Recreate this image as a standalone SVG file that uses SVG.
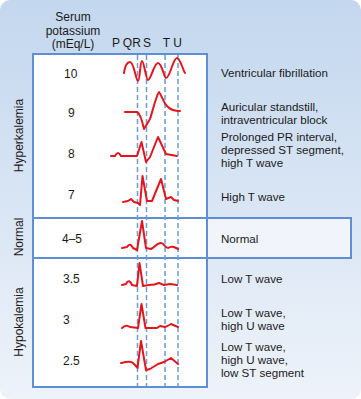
<svg xmlns="http://www.w3.org/2000/svg" width="361" height="399" viewBox="0 0 361 399">
<defs>
<linearGradient id="bg" x1="0" y1="0" x2="0" y2="1">
<stop offset="0" stop-color="#c3d7ee"/>
<stop offset="1" stop-color="#eef3fa"/>
</linearGradient>
<style>
text{font-family:"Liberation Sans",Arial,sans-serif;font-size:12px;fill:#1a1a1a}
.num{text-anchor:start}
.mid{text-anchor:middle}
.lbl{text-anchor:start;font-size:11.6px}
.frame{fill:none;stroke:#5d8fd4;stroke-width:2}
.dash{stroke:#6b9bd8;stroke-width:1.5;stroke-dasharray:5 3;fill:none}
.ecg{fill:none;stroke:#e3151d;stroke-width:2;stroke-linejoin:round;stroke-linecap:round}
</style>
</defs>
<rect x="0" y="0" width="361" height="399" fill="#ffffff"/>
<rect x="0" y="0" width="361" height="399" rx="10" fill="url(#bg)"/>

<g id="panel">
<rect x="33" y="54" width="174" height="333" fill="#ffffff"/>
<rect x="207" y="218" width="144" height="40" fill="#f1f5fb"/>
<rect x="33" y="54" width="174" height="333" class="frame"/>
<rect x="33" y="218" width="318" height="40" class="frame"/>
</g>

<g id="header">
<text class="mid" x="73" y="20.5">Serum</text>
<text class="mid" x="73" y="34.5">potassium</text>
<text class="mid" x="73" y="48">(mEq/L)</text>
<text class="mid" x="116" y="47">P</text>
<text class="mid" x="127.5" y="47">Q</text>
<text class="mid" x="136.5" y="47">R</text>
<text class="mid" x="147" y="47">S</text>
<text class="mid" x="166.5" y="47">T</text>
<text class="mid" x="177.5" y="47">U</text>
</g>

<g id="groups">
<text class="mid" transform="translate(22.5,135.5) rotate(-90)">Hyperkalemia</text>
<text class="mid" transform="translate(22.5,237) rotate(-90)">Normal</text>
<text class="mid" transform="translate(22.5,322) rotate(-90)">Hypokalemia</text>
</g>

<g id="connectors">
<line class="dash" x1="137.5" y1="55" x2="137.5" y2="386"/>
<line class="dash" x1="146.5" y1="55" x2="146.5" y2="386"/>
<line class="dash" x1="165" y1="55" x2="165" y2="386"/>
<line class="dash" x1="178" y1="55" x2="178" y2="386"/>
</g>

<g id="row-10">
<text class="num" x="64" y="78">10</text>
<path class="ecg" d="M124,73 C125,66 127,62 130,62 C134,62 136,81 138,81 C140,81 140,61 142,61 C144,61 146,80 148,80 C151,80 154,63 158,63 C162,63 164,78 166,78 C170,78 173,58 177,58 C180,58 183,70 185,73"/>
<text class="lbl" x="221" y="77">Ventricular fibrillation</text>
</g>

<g id="row-9">
<text class="num" x="68" y="116.5">9</text>
<path class="ecg" d="M125,112 L137,112 C140,113 142,120 144,129 L150,119 C153,110 156,96 159,92 C162,96 164,104 168,107 C171,110 175,111 180,111"/>
<text class="lbl" x="221" y="111">Auricular standstill,</text>
<text class="lbl" x="221" y="124">intraventricular block</text>
</g>

<g id="row-8">
<text class="num" x="68" y="157.5">8</text>
<path class="ecg" d="M111,156 L115,156 Q118,150 121,156 L137,156 L141.5,142 L146,162 L150,157 L158,137 L166,154 L177,156"/>
<text class="lbl" x="221" y="140.5">Prolonged PR interval,</text>
<text class="lbl" x="221" y="153.5">depressed ST segment,</text>
<text class="lbl" x="221" y="166.5">high T wave</text>
</g>

<g id="row-7">
<text class="num" x="68" y="199">7</text>
<path class="ecg" d="M123,202 L128,201 L131,199 L134,202 L138,203 L140,205 L142.5,176 L147,201 L152,201 L161,179 L166,199 L171,197 L174,200 L178,201"/>
<text class="lbl" x="221" y="200.5">High T wave</text>
</g>

<g id="row-normal">
<text class="num" x="62" y="243">4–5</text>
<path class="ecg" d="M122,248 L127,247 Q130,242 133,248 L137,250 L142,221 L146,248 L151,249 C155,247 157,243 161,243 C164,243 165,248 168,248 Q171,246 174,247 L178,249"/>
<text class="lbl" x="221" y="243">Normal</text>
</g>

<g id="row-3-5">
<text class="num" x="63" y="283">3.5</text>
<path class="ecg" d="M122,285 L126,284 Q129,278 132,285 L137,286 L139.5,263 L143,286 L149,285 Q155,285 159,283 L164,285 L170,284 L177,285"/>
<text class="lbl" x="221" y="283">Low T wave</text>
</g>

<g id="row-3">
<text class="num" x="63" y="324">3</text>
<path class="ecg" d="M122,328 Q126,324 130,327 L138,328 L141.5,304 L145.5,328 L157,328 L160,326 L165,327 Q168,326 171,324 L178,327"/>
<text class="lbl" x="221" y="317">Low T wave,</text>
<text class="lbl" x="221" y="330">high U wave</text>
</g>

<g id="row-2-5">
<text class="num" x="63" y="365">2.5</text>
<path class="ecg" d="M121,363 C125,362 128,361 131,362 C134,363 136,366 137.5,368 L141,341 L146,370 L150,369 L158,364 L164,362 L171,358 L178,364"/>
<text class="lbl" x="221" y="351">Low T wave,</text>
<text class="lbl" x="221" y="364">high U wave,</text>
<text class="lbl" x="221" y="377">low ST segment</text>
</g>
</svg>
